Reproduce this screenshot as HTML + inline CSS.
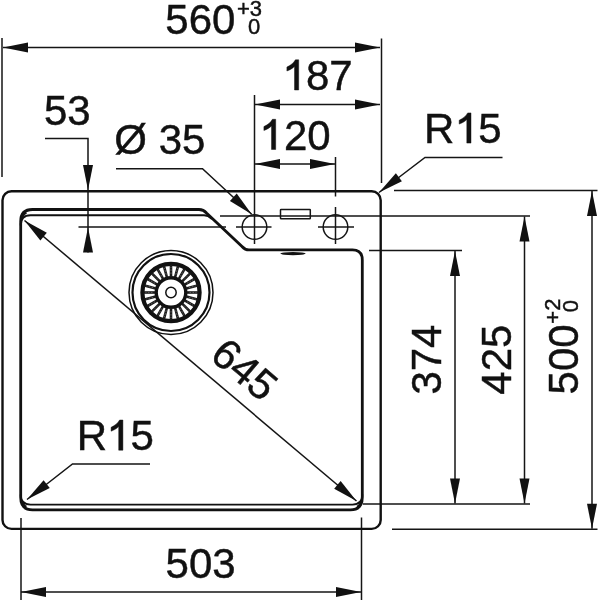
<!DOCTYPE html>
<html><head><meta charset="utf-8">
<style>
html,body{margin:0;padding:0;background:#fff;}
svg{display:block;will-change:transform;}
text{font-family:"Liberation Sans", sans-serif;fill:#111;stroke:#111;stroke-width:0.45px;}
</style></head>
<body>
<svg width="600" height="600" viewBox="0 0 600 600">
<defs>
<path id="ah" d="M0,0 L-25,-5 L-25,5 Z" fill="#111"/>
<path id="one" d="M0,0 L-4.2,0 L-4.2,-23.6 C-6.2,-21.6 -9,-20 -11.8,-19 L-11.8,-22.9 C-8,-24.6 -5,-27.2 -3.3,-30.2 L0,-30.2 Z" fill="#111" stroke="#111" stroke-width="0.45"/>
</defs>
<g fill="none" stroke="#151515" stroke-width="1.5">
  <!-- 560 dimension -->
  <line x1="2" y1="38" x2="2" y2="177"/>
  <line x1="381.5" y1="38.5" x2="381.5" y2="183"/>
  <line x1="3" y1="47.5" x2="380" y2="47.5"/>
  <!-- 187 -->
  <line x1="254.5" y1="95" x2="254.5" y2="244"/>
  <line x1="255" y1="104.5" x2="380" y2="104.5"/>
  <!-- 120 -->
  <line x1="255" y1="164" x2="335" y2="164"/>
  <line x1="335.5" y1="157" x2="335.5" y2="196.5"/>
  <line x1="335.5" y1="207" x2="335.5" y2="244"/>
  <!-- 53 -->
  <polyline points="45,138.5 88,138.5 88,252.5"/>
  <line x1="78.5" y1="227" x2="226" y2="227"/>
  <!-- circles -->
  <circle cx="254.5" cy="227" r="12.3"/>
  <circle cx="335.5" cy="227" r="12.3"/>
  <line x1="236" y1="227" x2="271.5" y2="227"/>
  <line x1="318" y1="227" x2="354" y2="227"/>
  <!-- line y=216 -->
  <line x1="220" y1="216" x2="530" y2="216"/>
  <!-- Ø35 leader -->
  <polyline points="116,168.7 202.5,168.7 251.7,214.2"/>
  <!-- R15 top right leader -->
  <polyline points="502.5,157.5 425,157.5 379,192.5"/>
  <!-- R15 bottom left leader -->
  <polyline points="150,464 72.5,464 27,499.5"/>
  <!-- right side ext lines -->
  <line x1="394" y1="190.5" x2="597.5" y2="190.5"/>
  <line x1="369" y1="250.5" x2="462" y2="250.5"/>
  <line x1="363" y1="504" x2="530" y2="504"/>
  <line x1="392" y1="529.3" x2="597.5" y2="529.3"/>
  <line x1="455" y1="251" x2="455" y2="503.5"/>
  <line x1="524.5" y1="216.5" x2="524.5" y2="503.5"/>
  <line x1="592" y1="191" x2="592" y2="528.8"/>
  <!-- 503 -->
  <line x1="21" y1="518" x2="21" y2="600"/>
  <line x1="361.5" y1="517.5" x2="361.5" y2="600"/>
  <line x1="21" y1="592" x2="361" y2="592"/>
  <!-- 645 diagonal -->
  <line x1="24.5" y1="220.5" x2="356.5" y2="501"/>
  <!-- overflow rect -->
  <rect x="280.5" y="209.5" width="29.8" height="9.3" rx="0.6"/>
</g>
<!-- outer sink outline -->
<rect x="2.5" y="191.3" width="378.2" height="337.6" rx="9" fill="none" stroke="#111" stroke-width="2.4"/>
<!-- bowl thick outline -->
<path d="M20.7,497.5 L20.7,221.5 Q20.7,209.5 32.5,209.5 L199,209.5 Q203.5,209.5 206.5,213 L242,246.5 Q245,249.9 249,249.9 L352.5,249.9 Q362.3,249.9 362.3,260 L362.3,497.5 Q362.3,509.8 350.5,509.8 L32.5,509.8 Q20.7,509.8 20.7,497.5 Z" fill="none" stroke="#111" stroke-width="2.8"/>
<!-- bowl thin inner lines -->
<path d="M20.7,225.5 Q20.7,215.3 30.5,215.3 L204,215.3 Q208,215.3 212,219" fill="none" stroke="#111" stroke-width="1.9"/>
<path d="M20.7,494.5 Q20.7,504.6 30.5,504.6 L352.5,504.6 Q362.3,504.6 362.3,494.5" fill="none" stroke="#111" stroke-width="1.9"/>
<!-- corner blobs -->
<path d="M357,507 Q361,505.5 361.8,500" fill="none" stroke="#111" stroke-width="2.6"/>
<path d="M26.4,507 Q22.4,505.5 21.6,500" fill="none" stroke="#111" stroke-width="2.6"/>
<path d="M26.4,212.6 Q22.4,214.1 21.6,219.6" fill="none" stroke="#111" stroke-width="2.6"/>
<!-- overflow lens -->
<ellipse cx="293" cy="253.6" rx="12.6" ry="1.6" fill="#111"/>
<!-- drain -->
<g fill="none" stroke="#111" transform="translate(171,292.5)">
  <circle r="42" stroke-width="1.5"/>
  <circle r="38.5" stroke-width="2.2"/>
  <circle r="28.6" stroke-width="4.2"/>
  <circle r="14.8" stroke-width="3.4"/>
  <circle r="5.2" stroke-width="1.5"/>
  <g stroke-width="2.6" stroke="#1a1a1a"><line x1="15.8" y1="0" x2="27.5" y2="0" transform="rotate(0)"/><line x1="15.8" y1="0" x2="27.5" y2="0" transform="rotate(15)"/><line x1="15.8" y1="0" x2="27.5" y2="0" transform="rotate(30)"/><line x1="15.8" y1="0" x2="27.5" y2="0" transform="rotate(45)"/><line x1="15.8" y1="0" x2="27.5" y2="0" transform="rotate(60)"/><line x1="15.8" y1="0" x2="27.5" y2="0" transform="rotate(75)"/><line x1="15.8" y1="0" x2="27.5" y2="0" transform="rotate(90)"/><line x1="15.8" y1="0" x2="27.5" y2="0" transform="rotate(105)"/><line x1="15.8" y1="0" x2="27.5" y2="0" transform="rotate(120)"/><line x1="15.8" y1="0" x2="27.5" y2="0" transform="rotate(135)"/><line x1="15.8" y1="0" x2="27.5" y2="0" transform="rotate(150)"/><line x1="15.8" y1="0" x2="27.5" y2="0" transform="rotate(165)"/><line x1="15.8" y1="0" x2="27.5" y2="0" transform="rotate(180)"/><line x1="15.8" y1="0" x2="27.5" y2="0" transform="rotate(195)"/><line x1="15.8" y1="0" x2="27.5" y2="0" transform="rotate(210)"/><line x1="15.8" y1="0" x2="27.5" y2="0" transform="rotate(225)"/><line x1="15.8" y1="0" x2="27.5" y2="0" transform="rotate(240)"/><line x1="15.8" y1="0" x2="27.5" y2="0" transform="rotate(255)"/><line x1="15.8" y1="0" x2="27.5" y2="0" transform="rotate(270)"/><line x1="15.8" y1="0" x2="27.5" y2="0" transform="rotate(285)"/><line x1="15.8" y1="0" x2="27.5" y2="0" transform="rotate(300)"/><line x1="15.8" y1="0" x2="27.5" y2="0" transform="rotate(315)"/><line x1="15.8" y1="0" x2="27.5" y2="0" transform="rotate(330)"/><line x1="15.8" y1="0" x2="27.5" y2="0" transform="rotate(345)"/></g>
  <g stroke-width="0.7" stroke="#777" stroke-dasharray="1.6 1.4"><line x1="18.5" y1="0" x2="25.5" y2="0" transform="rotate(0)"/><line x1="18.5" y1="0" x2="25.5" y2="0" transform="rotate(15)"/><line x1="18.5" y1="0" x2="25.5" y2="0" transform="rotate(30)"/><line x1="18.5" y1="0" x2="25.5" y2="0" transform="rotate(45)"/><line x1="18.5" y1="0" x2="25.5" y2="0" transform="rotate(60)"/><line x1="18.5" y1="0" x2="25.5" y2="0" transform="rotate(75)"/><line x1="18.5" y1="0" x2="25.5" y2="0" transform="rotate(90)"/><line x1="18.5" y1="0" x2="25.5" y2="0" transform="rotate(105)"/><line x1="18.5" y1="0" x2="25.5" y2="0" transform="rotate(120)"/><line x1="18.5" y1="0" x2="25.5" y2="0" transform="rotate(135)"/><line x1="18.5" y1="0" x2="25.5" y2="0" transform="rotate(150)"/><line x1="18.5" y1="0" x2="25.5" y2="0" transform="rotate(165)"/><line x1="18.5" y1="0" x2="25.5" y2="0" transform="rotate(180)"/><line x1="18.5" y1="0" x2="25.5" y2="0" transform="rotate(195)"/><line x1="18.5" y1="0" x2="25.5" y2="0" transform="rotate(210)"/><line x1="18.5" y1="0" x2="25.5" y2="0" transform="rotate(225)"/><line x1="18.5" y1="0" x2="25.5" y2="0" transform="rotate(240)"/><line x1="18.5" y1="0" x2="25.5" y2="0" transform="rotate(255)"/><line x1="18.5" y1="0" x2="25.5" y2="0" transform="rotate(270)"/><line x1="18.5" y1="0" x2="25.5" y2="0" transform="rotate(285)"/><line x1="18.5" y1="0" x2="25.5" y2="0" transform="rotate(300)"/><line x1="18.5" y1="0" x2="25.5" y2="0" transform="rotate(315)"/><line x1="18.5" y1="0" x2="25.5" y2="0" transform="rotate(330)"/><line x1="18.5" y1="0" x2="25.5" y2="0" transform="rotate(345)"/></g>
</g>
<!-- arrowheads -->
<g fill="#111">
  <use href="#ah" transform="translate(3,47.5) rotate(180)"/>
  <use href="#ah" transform="translate(380,47.5)"/>
  <use href="#ah" transform="translate(255,104.5) rotate(180)"/>
  <use href="#ah" transform="translate(380,104.5)"/>
  <use href="#ah" transform="translate(255,164) rotate(180)"/>
  <use href="#ah" transform="translate(335,164)"/>
  <use href="#ah" transform="translate(88,190) rotate(90)"/>
  <use href="#ah" transform="translate(88,227.5) rotate(-90)"/>
  <use href="#ah" transform="translate(251.7,214.2) rotate(42.7)"/>
  <use href="#ah" transform="translate(379,192.5) rotate(142.7)"/>
  <use href="#ah" transform="translate(27,499.5) rotate(141.9)"/>
  <use href="#ah" transform="translate(455,251) rotate(-90)"/>
  <use href="#ah" transform="translate(455,503.5) rotate(90)"/>
  <use href="#ah" transform="translate(524.5,216.5) rotate(-90)"/>
  <use href="#ah" transform="translate(524.5,503.5) rotate(90)"/>
  <use href="#ah" transform="translate(592,191) rotate(-90)"/>
  <use href="#ah" transform="translate(592,528.8) rotate(90)"/>
  <use href="#ah" transform="translate(21,592) rotate(180)"/>
  <use href="#ah" transform="translate(361,592)"/>
  <use href="#ah" transform="translate(24.5,220.5) rotate(220.2)"/>
  <use href="#ah" transform="translate(356.5,501) rotate(40.2)"/>
</g>
<!-- texts -->
<text x="165.3" y="34.2" font-size="42">560</text>
<text x="237" y="15.8" font-size="22">+3</text>
<text x="247.9" y="34.3" font-size="22">0</text>
<use href="#one" x="298.7" y="90"/><text x="306" y="90.2" font-size="42">87</text>
<text x="44" y="125.3" font-size="42">53</text>
<text x="114.3" y="153.5" font-size="42">Ø 35</text>
<use href="#one" x="275.7" y="149.5"/><text x="284" y="149.5" font-size="42">20</text>
<text x="424" y="143.2" font-size="42">R</text><use href="#one" x="471" y="143.1"/><text x="478.3" y="143.2" font-size="42">5</text>
<text x="76.85" y="450.3" font-size="42">R</text><use href="#one" x="122.9" y="450.2"/><text x="130.4" y="450.3" font-size="42">5</text>
<text x="165.6" y="578" font-size="42">503</text>
<text transform="translate(208.5,358) rotate(40)" font-size="42">645</text>
<text transform="translate(441,394.6) rotate(-90)" font-size="42">374</text>
<text transform="translate(510.5,394.7) rotate(-90)" font-size="42">425</text>
<text transform="translate(578.3,394.4) rotate(-90)" font-size="42">500</text>
<text transform="translate(559.5,323.7) rotate(-90)" font-size="22">+2</text>
<text transform="translate(578,312.3) rotate(-90)" font-size="22">0</text>
</svg>
</body></html>
